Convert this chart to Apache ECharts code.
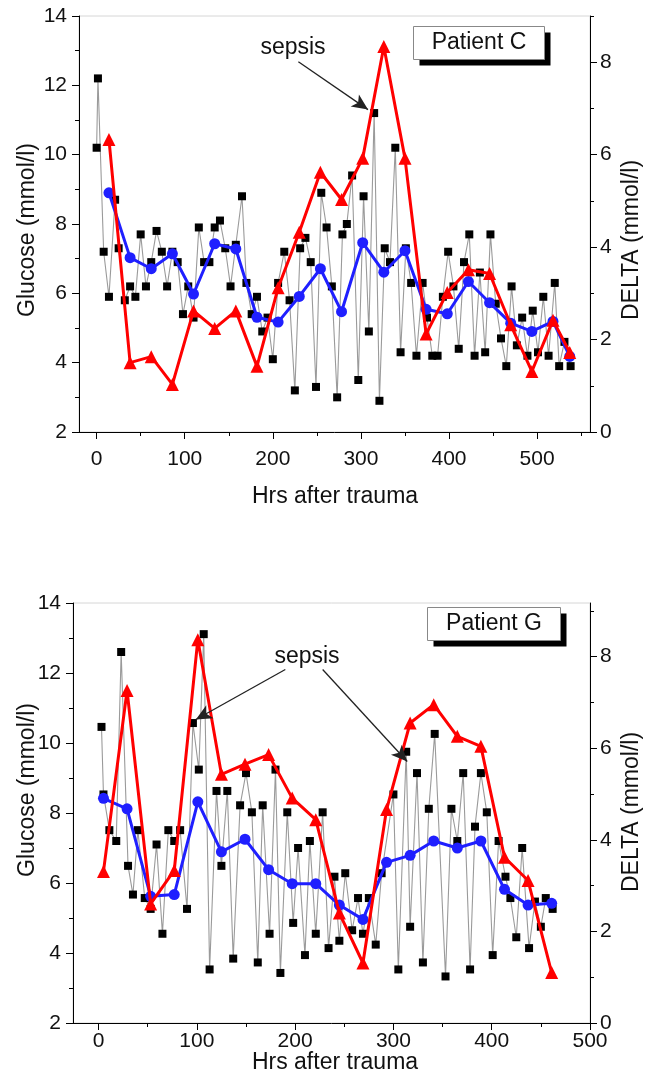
<!DOCTYPE html>
<html><head><meta charset="utf-8">
<script src="https://cdn.jsdelivr.net/npm/echarts@6/dist/echarts.min.js"></script>
<style>html,body{margin:0;padding:0;background:#fff}#c{width:662px;height:1085px}</style>
</head><body><div id="c"></div>
<script>
// ---------- Patient C ----------
const C_gluHrs = [0,1.5,8,14,21,25,32,38,44,50,56,62,68,74,80,86,92,98,104,110,116,122,128,134,140,146,152,158,165,170,176,182,188,194,200,206,213,219,225,231,237,243,249,255,261,267,273,279,284,290,297,303,309,315,321,327,333,339,345,351,357,363,370,375,381,387,393,399,405,411,417,423,429,435,441,447,453,459,465,471,477,483,489,495,501,507,513,520,525,531,538];
const C_gluVal = [10.2,12.2,7.2,5.9,8.7,7.3,5.8,6.2,5.9,7.7,6.2,6.9,7.8,7.2,6.2,7.2,6.9,5.4,6.2,5.3,7.9,6.9,6.9,7.9,8.1,7.3,6.2,7.4,8.8,6.3,5.4,5.9,4.9,5.3,4.1,6.3,7.2,5.8,3.2,7.3,7.6,6.9,3.3,8.9,7.9,6.2,3.0,7.7,8.0,9.4,3.5,8.8,4.9,11.2,2.9,7.3,6.9,10.2,4.3,7.3,6.3,4.2,6.3,5.3,4.2,4.2,5.9,7.2,6.2,4.4,6.9,7.7,4.2,6.6,4.3,7.7,5.7,4.7,3.9,6.2,4.5,5.3,4.2,5.5,4.3,5.9,4.2,6.3,3.9,4.6,3.9];
const C_dayHrs = [14,38,62,86,110,134,158,182,206,230,254,278,302,326,350,374,398,422,446,470,494,518,537];
const C_meanGlu = [8.9,7.03,6.71,7.14,5.98,7.43,7.28,5.31,5.17,5.91,6.71,5.47,7.46,6.61,7.23,5.54,5.41,6.34,5.73,5.14,4.90,5.19,4.18];
const C_delta = [6.33,1.50,1.63,1.03,2.62,2.24,2.62,1.42,3.12,4.32,5.62,5.03,5.92,8.34,5.92,2.12,3.02,3.51,3.43,2.32,1.31,2.42,1.72];
const C_arrowFrom = [229, 12.68], C_arrowTo = [308, 11.3];

// ---------- Patient G ----------
const G_gluHrs = [3,5,11,18,23,30,35,40,47,53,59,65,71,77,83,90,96,102,107,113,120,125,131,137,144,150,156,162,167,174,180,185,192,198,203,210,215,221,228,234,240,245,251,258,264,269,275,282,288,300,305,313,317,324,330,336,342,353,359,365,371,378,383,389,395,401,407,414,419,425,431,438,444,450,455,462];
const G_gluVal = [10.46,8.53,7.51,7.20,12.60,6.49,5.67,7.51,5.57,5.26,7.10,4.55,7.51,7.20,7.51,5.26,10.57,9.24,13.11,3.53,8.63,6.49,8.63,3.84,8.22,9.14,8.02,3.73,8.22,4.55,9.24,3.43,8.02,4.86,7.00,3.94,7.20,4.55,8.02,4.14,6.18,4.35,6.28,4.65,5.57,4.55,5.57,4.24,6.28,8.53,3.53,9.75,4.75,9.14,3.73,8.12,10.26,3.33,8.12,7.20,9.14,3.53,7.61,9.14,8.02,3.94,7.20,6.18,5.57,4.45,7.00,4.14,5.47,4.75,5.57,5.26];
const G_dayHrs = [5,29,53,77,101,125,149,173,197,221,245,269,293,317,341,365,389,413,437,461];
const G_meanGlu = [8.42,8.12,5.62,5.67,8.32,6.89,7.25,6.38,5.98,5.98,5.37,4.96,6.59,6.79,7.20,7.00,7.20,5.82,5.37,5.42];
const G_delta = [3.31,7.26,2.60,3.33,8.37,5.43,5.65,5.86,4.91,4.44,2.40,1.31,4.66,6.55,6.95,6.26,6.04,3.62,3.11,1.10];
const G_arrow1From = [190, 12.10], G_arrow1To = [99, 10.67];
const G_arrow2From = [228, 12.10], G_arrow2To = [314, 9.47];

// ---------- ticks ----------
const xMajor = [0,100,200,300,400,500];
const xMinorC = [50,150,250,350,450,550];
const xMinorG = [50,150,250,350,450];
const gluMajor = [2,4,6,8,10,12,14];
const gluMinor = [3,5,7,9,11,13];
const deltaMajor = [0,2,4,6,8];
const deltaMinor = [1,3,5,7,9];

const zip = (a,b) => a.map((v,i)=>[v,b[i]]);
const FONT = 'Liberation Sans, Arial, Helvetica, sans-serif';
const TXT = '#111';

function majorAxis(grid, min, max, vals, pos, margin) {
  return {
    type:'value', gridIndex:grid, min, max, position:pos,
    axisLine:{show:true, onZero:false, lineStyle:{color:'#000', width:1}},
    axisTick:{show:true, inside:false, length:7, customValues:vals, lineStyle:{color:'#000', width:1}},
    axisLabel:{show:true, customValues:vals, fontSize:21, fontFamily:FONT, color:TXT, margin},
    splitLine:{show:false}, minorTick:{show:false}, minorSplitLine:{show:false}
  };
}
function minorAxis(grid, min, max, vals, pos) {
  return {
    type:'value', gridIndex:grid, min, max, position:pos,
    axisLine:{show:false, onZero:false},
    axisTick:{show:true, inside:false, length:4, customValues:vals, lineStyle:{color:'#000', width:1}},
    axisLabel:{show:false}, splitLine:{show:false}
  };
}

const xAxis = [
  majorAxis(0,-20,560,xMajor,'bottom',17),
  minorAxis(0,-20,560,xMinorC,'bottom'),
  majorAxis(1,-26,500,xMajor,'bottom',8),
  minorAxis(1,-26,500,xMinorG,'bottom')
];
const yAxis = [
  majorAxis(0,2,14,gluMajor,'left',12),
  minorAxis(0,2,14,gluMinor,'left'),
  majorAxis(0,0,9,deltaMajor,'right',10),
  minorAxis(0,0,9,deltaMinor,'right'),
  majorAxis(1,2,14,gluMajor,'left',12),
  minorAxis(1,2,14,gluMinor,'left'),
  majorAxis(1,0,9.17,deltaMajor,'right',10),
  minorAxis(1,0,9.17,deltaMinor,'right')
];

function gluSeries(x, y, xi, yi, mark) {
  return {type:'line', xAxisIndex:xi, yAxisIndex:yi, data:zip(x,y), symbol:'rect', symbolSize:8,
    itemStyle:{color:'#000'}, lineStyle:{color:'#9a9a9a', width:1.1}, z:2, markLine:mark};
}
function meanSeries(x, y, xi, yi) {
  return {type:'line', xAxisIndex:xi, yAxisIndex:yi, data:zip(x,y), symbol:'circle', symbolSize:11,
    itemStyle:{color:'#1f1fff'}, lineStyle:{color:'#1f1fff', width:3}, z:3};
}
function deltaSeries(x, y, xi, yi) {
  return {type:'line', xAxisIndex:xi, yAxisIndex:yi, data:zip(x,y), symbol:'triangle', symbolSize:13,
    itemStyle:{color:'#ff0000'}, lineStyle:{color:'#ff0000', width:3}, z:4};
}
function arrows(pairs) {
  return {
    silent:true, symbol:['none','arrow'], symbolSize:[11,16],
    lineStyle:{color:'#222', width:1.3, type:'solid'}, label:{show:false},
    data:pairs.map(p=>[{coord:p[0]},{coord:p[1]}])
  };
}

function patientBox(left, top, w, h, text) {
  return {type:'group', left, top, children:[
    {type:'rect', shape:{x:6, y:6, width:w, height:h}, style:{fill:'#000'}},
    {type:'rect', shape:{x:0, y:0, width:w, height:h}, style:{fill:'#fff', stroke:'#888', lineWidth:1}},
    {type:'text', x:w/2, y:h/2, style:{text, fontSize:23, fontFamily:FONT, fill:TXT, align:'center', verticalAlign:'middle'}}
  ]};
}
function label(x, y, text, rot) {
  return {type:'text', x, y, rotation:rot||0,
    style:{text, fontSize:23, fontFamily:FONT, fill:TXT, align:'center', verticalAlign:'middle'}};
}

const option = {
  animation:false,
  backgroundColor:'#fff',
  grid:[
    {left:79, top:16, width:511, height:416, show:true, borderColor:'#d6d6d6', borderWidth:1, backgroundColor:'transparent'},
    {left:73, top:603, width:517, height:420, show:true, borderColor:'#d6d6d6', borderWidth:1, backgroundColor:'transparent'}
  ],
  xAxis, yAxis,
  series:[
    gluSeries(C_gluHrs, C_gluVal, 0, 0, arrows([[C_arrowFrom, C_arrowTo]])),
    meanSeries(C_dayHrs, C_meanGlu, 0, 0),
    deltaSeries(C_dayHrs, C_delta, 0, 2),
    gluSeries(G_gluHrs, G_gluVal, 2, 4, arrows([[G_arrow1From, G_arrow1To],[G_arrow2From, G_arrow2To]])),
    meanSeries(G_dayHrs, G_meanGlu, 2, 4),
    deltaSeries(G_dayHrs, G_delta, 2, 6)
  ],
  graphic:[
    patientBox(413, 26, 131, 33, 'Patient C'),
    patientBox(427, 607, 133, 33, 'Patient G'),
    label(293, 48, 'sepsis'),
    label(307, 657, 'sepsis'),
    label(28, 230, 'Glucose (mmol/l)', Math.PI/2),
    label(632, 240, 'DELTA (mmol/l)', Math.PI/2),
    label(335, 497, 'Hrs after trauma'),
    label(28, 790, 'Glucose (mmol/l)', Math.PI/2),
    label(632, 812, 'DELTA (mmol/l)', Math.PI/2),
    label(335, 1063, 'Hrs after trauma')
  ]
};
const chart = echarts.init(document.getElementById('c'), null, {renderer:'canvas'});
chart.setOption(option);
</script></body></html>
